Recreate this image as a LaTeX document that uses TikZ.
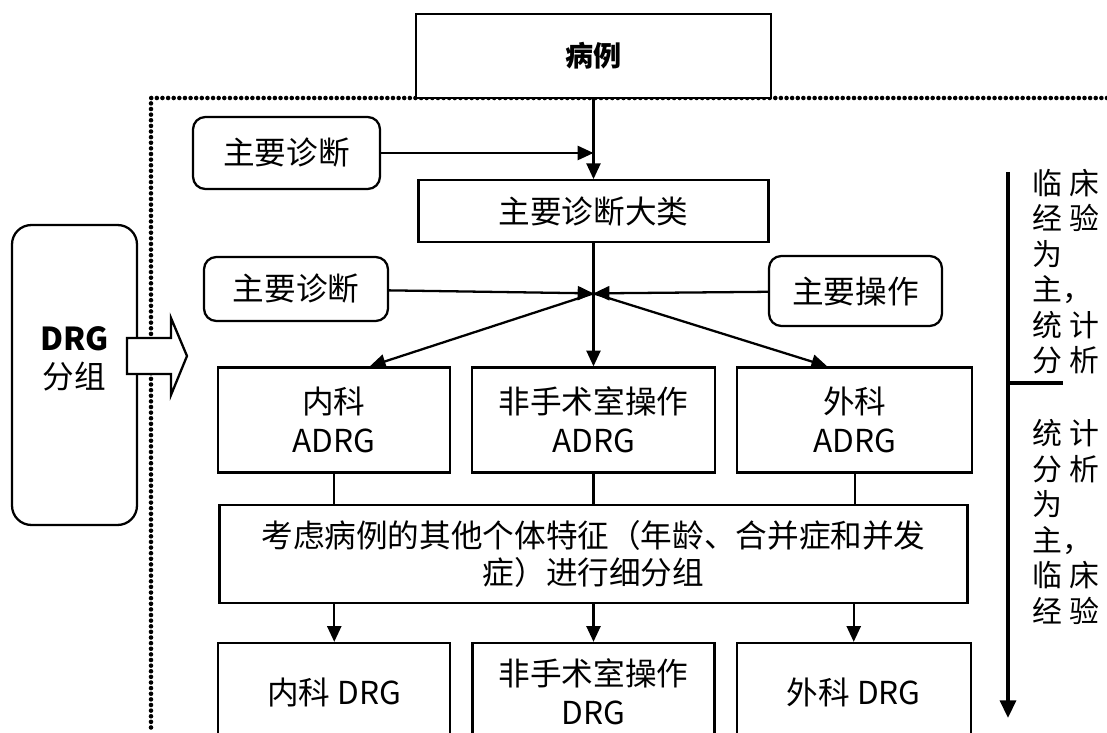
\documentclass[tikz,border=0pt]{standalone}
\usepackage{fontspec}
\setmainfont{Noto Sans CJK SC}
\usetikzlibrary{arrows.meta,positioning,calc}
\newcommand{\cgap}{\hspace{4.5pt}}
\tikzset{
    box/.style = {
        draw,
        line width=1.3pt,
        align=center,
        inner sep=0pt,
        fill=white,
        font=\fontsize{18}{22}\selectfont,
        },
    round box/.style = {
        box,
        rounded corners=7pt,
        },
    side text/.style = {
        align=left,
        inner sep=0pt,
        font=\fontsize{17}{20.2}\selectfont,
        },
    dot line/.style = {
        line width=2.6pt,
        line cap=round,
        dash pattern=on 0pt off 3.2pt,
        },
}

\begin{document}
\begin{tikzpicture}[->, >={Triangle[length=9pt,width=8pt]}, line width=1.3pt, x=0.02cm, y=-0.02cm]
            \useasboundingbox (0,0) rectangle (1107,733);
            % frame of the grouping area
            \draw[-, dot line] (1107,98) -- (151,98) -- (151,733);

            \node[box, minimum width=7.1cm, minimum height=1.68cm, font=\fontsize{16}{20}\selectfont\bfseries] (case) at (593.5,56) {病例};
            \node[box, below=1.6cm of case, minimum width=7cm, minimum height=1.24cm] (mdc) {主要诊断大类};
            \node[round box, minimum width=3.74cm, minimum height=1.44cm] (mdcin) at (286.5,153) {主要诊断};
            \node[round box, minimum width=3.68cm, minimum height=1.28cm] (pdx) at (296,289) {主要诊断};
            \node[round box, minimum width=3.46cm, minimum height=1.4cm] (proc) at (855.5,291) {主要操作};
            \coordinate (junc) at ($(mdc.south)+(0,50)$);

            \node[box, below=2.46cm of mdc, minimum width=4.86cm, minimum height=2.1cm] (adrg2) {非手术室操作\\ADRG};
            \node[box, left=0.4cm of adrg2, minimum width=4.64cm, minimum height=2.1cm] (adrg1) {内科\\ADRG};
            \node[box, right=0.4cm of adrg2, minimum width=4.7cm, minimum height=2.1cm] (adrg3) {外科\\ADRG};

            \node[box, below=0.6cm of adrg2, minimum width=14.96cm, minimum height=1.96cm, font=\fontsize{18}{21}\selectfont] (split) {考虑病例的其他个体特征（年龄、合并症和并发\\症）进行细分组};

            \node[box, below=0.76cm of split, minimum width=4.84cm, minimum height=1.96cm] (drg2) {非手术室操作\\DRG};
            \node[box, left=0.4cm of drg2, minimum width=4.64cm, minimum height=1.96cm] (drg1) {内科 DRG};
            \node[box, right=0.4cm of drg2, minimum width=4.68cm, minimum height=1.96cm] (drg3) {外科 DRG};

            \node[box, rounded corners=11pt, minimum width=2.5cm, minimum height=6cm, text depth=20pt] (group) at (74.5,375) {{\bfseries DRG}\\分组};

            \path (case) edge (mdc);
            \path (mdcin) edge (mdcin -| mdc);
            \path (mdc) edge[-] (junc);
            \path (pdx) edge (junc);
            \path (proc) edge (junc);
            \path (junc) edge ([xshift=0.72cm]adrg1.north);
            \path (junc) edge (adrg2);
            \path (junc) edge ([xshift=-0.55cm]adrg3.north);
            \path (adrg1) edge[-] (adrg1 |- split.north);
            \path (adrg2) edge[-] (adrg2 |- split.north);
            \path (adrg3) edge[-] (adrg3 |- split.north);
            \path (split.south -| drg1) edge (drg1);
            \path (split.south -| drg2) edge (drg2);
            \path (split.south -| drg3) edge (drg3);

            % block arrow out of the DRG box
            \draw[-, fill=white] (127,338) -- (171,338) -- (171,318) -- (187,356) -- (171,395) -- (171,374) -- (127,374) -- cycle;

            % experience / statistics scale
            \coordinate (axtop) at (1008,172);
            \coordinate (axend) at (1008,718);
            \coordinate (tick) at (1063,383);
            \draw[line width=2pt, >={Triangle[length=10pt,width=9pt]}] (axtop) -- (axend);
            \draw[-, line width=2pt] (tick -| axtop) -- (tick);
            \node[side text, anchor=west] (clin) at (1031,271.5) {临\cgap 床\\经\cgap 验\\为\\主，\\统\cgap 计\\分\cgap 析};
            \node[side text, anchor=west] (stat) at (1031,522) {统\cgap 计\\分\cgap 析\\为\\主，\\临\cgap 床\\经\cgap 验};
\end{tikzpicture}
\end{document}
